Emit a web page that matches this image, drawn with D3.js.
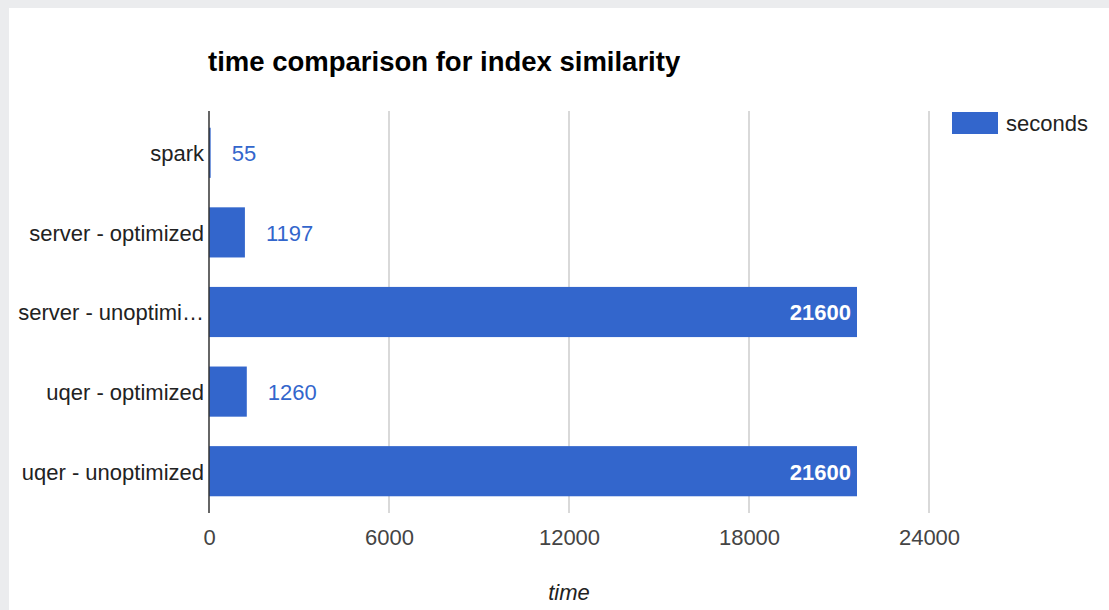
<!DOCTYPE html>
<html>
<head>
<meta charset="utf-8">
<script src="https://cdn.jsdelivr.net/npm/d3@7"></script>
<style>
  body { margin: 0; background: #ebecee; }
  text { font-family: "Liberation Sans", Arial, sans-serif; }
</style>
</head>
<body>
<div id="chart"></div>
<script>
var categories = ["spark", "server - optimized", "server - unoptimized", "uqer - optimized", "uqer - unoptimized"]
var shownLabels = ["spark", "server - optimized", "server - unoptimi\u2026", "uqer - optimized", "uqer - unoptimized"]
var seconds = [55, 1197, 21600, 1260, 21600]
var xTicks = [0, 6000, 12000, 18000, 24000]

var width = 1109, height = 610
var margin = { left: 209, top: 113, plotRight: 929, bottom: 511 }
var fontSize = 22

var svg = d3.select("#chart").append("svg")
  .attr("width", width)
  .attr("height", height)

// screenshot frame: gray strip on top and left
svg.append("rect")
  .attr("x", 0).attr("y", 0)
  .attr("width", width).attr("height", height)
  .attr("fill", "#ebecee")
svg.append("rect")
  .attr("x", 9).attr("y", 8)
  .attr("width", width - 9).attr("height", height - 8)
  .attr("fill", "#ffffff")

var x = d3.scaleLinear()
  .domain([0, 24000])
  .range([margin.left, margin.plotRight])

var y = d3.scaleBand()
  .domain(categories)
  .range([margin.top, margin.bottom])
  .paddingInner(0.37)
  .paddingOuter(0.185)

// title
svg.append("text")
  .attr("x", 208)
  .attr("y", 71)
  .attr("font-size", 27.5)
  .attr("font-weight", "bold")
  .attr("fill", "#000")
  .text("time comparison for index similarity")

// gridlines
svg.append("g").selectAll("line")
  .data(xTicks.slice(1))
  .enter().append("line")
    .attr("x1", function(d) { return x(d) })
    .attr("x2", function(d) { return x(d) })
    .attr("y1", margin.top - 2)
    .attr("y2", margin.bottom + 2)
    .attr("stroke", "#cccccc")
    .attr("stroke-width", 1.5)

// bars
svg.append("g").selectAll("rect")
  .data(seconds)
  .enter().append("rect")
    .attr("x", x(0))
    .attr("y", function(d, i) { return y(categories[i]) })
    .attr("width", function(d) { return x(d) - x(0) })
    .attr("height", y.bandwidth())
    .attr("fill", "#3366cc")

// value labels
svg.append("g").selectAll("text")
  .data(seconds)
  .enter().append("text")
    .attr("x", function(d) { return d > 10000 ? x(d) - 6 : x(d) + 21 })
    .attr("y", function(d, i) { return y(categories[i]) + y.bandwidth() / 2 })
    .attr("dy", "0.38em")
    .attr("text-anchor", function(d) { return d > 10000 ? "end" : "start" })
    .attr("font-size", fontSize)
    .attr("font-weight", function(d) { return d > 10000 ? "bold" : "normal" })
    .attr("fill", function(d) { return d > 10000 ? "#ffffff" : "#3366cc" })
    .text(function(d) { return d })

// category labels
svg.append("g").selectAll("text")
  .data(categories)
  .enter().append("text")
    .attr("x", 204)
    .attr("y", function(d) { return y(d) + y.bandwidth() / 2 })
    .attr("dy", "0.38em")
    .attr("text-anchor", "end")
    .attr("font-size", fontSize)
    .attr("fill", "#222222")
    .text(function(d, i) { return shownLabels[i] })

// vertical baseline
svg.append("line")
  .attr("x1", x(0)).attr("x2", x(0))
  .attr("y1", margin.top - 2)
  .attr("y2", margin.bottom + 2)
  .attr("stroke", "#333333")
  .attr("stroke-width", 1.5)

// x tick labels
var xAxis = d3.axisBottom(x)
  .tickValues(xTicks)
  .tickFormat(d3.format("d"))
  .tickSize(0)
  .tickPadding(0)
var gx = svg.append("g")
  .attr("transform", "translate(0," + (margin.bottom + 34) + ")")
  .call(xAxis)
gx.select(".domain").remove()
gx.selectAll("text")
  .attr("font-family", "Liberation Sans, Arial, sans-serif")
  .attr("font-size", fontSize)
  .attr("fill", "#444444")
  .attr("dy", 0)

// axis title
svg.append("text")
  .attr("x", x(12000))
  .attr("y", 600)
  .attr("text-anchor", "middle")
  .attr("font-size", fontSize)
  .attr("font-style", "italic")
  .attr("fill", "#222222")
  .text("time")

// legend
svg.append("rect")
  .attr("x", 952).attr("y", 112)
  .attr("width", 46).attr("height", 22)
  .attr("fill", "#3366cc")
svg.append("text")
  .attr("x", 1006)
  .attr("y", 123)
  .attr("dy", "0.35em")
  .attr("font-size", fontSize)
  .attr("fill", "#222222")
  .text("seconds")
</script>
</body>
</html>
